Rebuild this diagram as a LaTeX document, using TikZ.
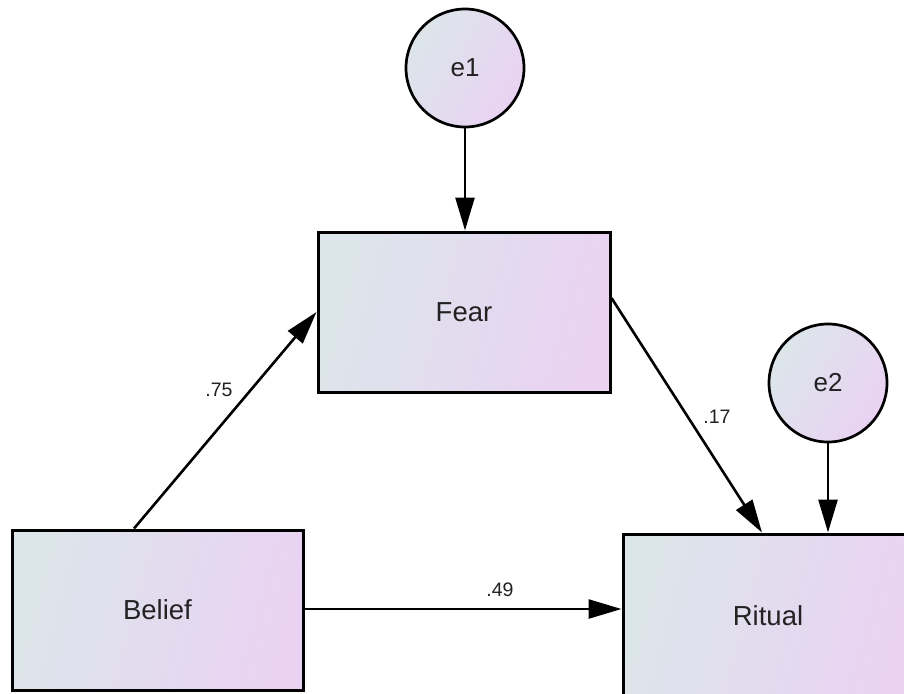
\documentclass[tikz,border=0pt]{standalone}
\usepackage{fontspec}
\setmainfont{Liberation Sans}
\usetikzlibrary{arrows.meta,calc}
\definecolor{gleft}{HTML}{DCE6EA}
\definecolor{gright}{HTML}{EAD2F3}
\definecolor{txt}{HTML}{222222}
\begin{document}
\begin{tikzpicture}[x=1pt,y=-1pt,
  varbox/.style={draw=black,line width=3pt,rectangle,left color=gleft,right color=gright,
    shading angle=75,text=txt,font=\fontsize{27.5}{30}\selectfont,inner sep=0pt},
  errc/.style={draw=black,line width=2.7pt,circle,left color=gleft,right color=gright,
    shading angle=60,text=txt,font=\fontsize{26}{28}\selectfont,inner sep=0pt,minimum size=118pt},
  path/.style={draw=black,line width=2.6pt,-{Triangle[length=33pt,width=19pt]}},
  coef/.style={text=txt,font=\fontsize{19.5}{22}\selectfont,inner sep=0pt}]
\useasboundingbox (0,0) rectangle (904,693);
\clip (0,0) rectangle (904,693);
\fill[white] (0,0) rectangle (904,693);
\node[varbox,minimum width=292pt,minimum height=160pt] (Fear) at (464,312) {Fear};
\node[varbox,minimum width=291pt,minimum height=160pt] (Belief) at (157.5,610) {Belief};
\node[varbox,minimum width=290pt,minimum height=164pt] (Ritual) at (768,616) {Ritual};
\node[errc] (e1) at (465,68) {e1};
\node[errc] (e2) at (828,383) {e2};
\draw[path] (e1.south) -- (e1.south |- Fear.north);
\draw[path] (e2.south) -- (e2.south |- Ritual.north);
\draw[path] ($(Belief.north)+(-23.5,0)$) -- (Fear.west);
\draw[path] ($(Fear.east)+(0,-14)$) -- ($(Ritual.north)+(-6,0)$);
\coordinate (bs) at ($(Belief.east)+(0,-1)$);
\draw[path] (bs) -- (bs -| Ritual.west);
\node[coef] (c75) at (219,390) {.75};
\node[coef] (c17) at (717,417) {.17};
\node[coef] (c49) at (500,590) {.49};
\end{tikzpicture}
\end{document}
